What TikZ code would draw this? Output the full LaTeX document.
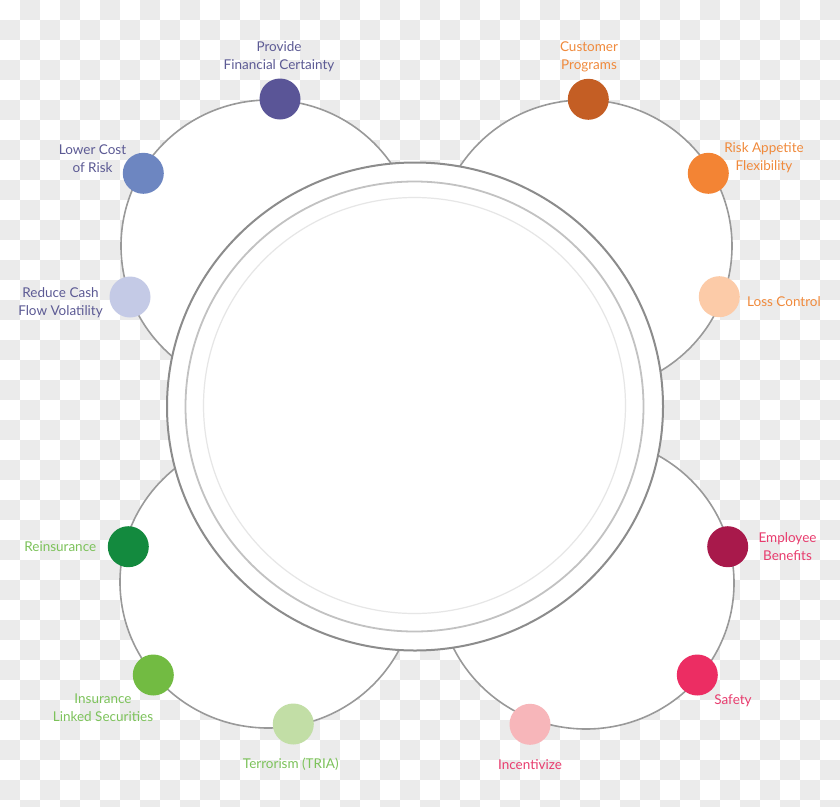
\documentclass[tikz,border=0pt]{standalone}
\usepackage{fontspec}
\setmainfont{Lato}
\definecolor{chk}{HTML}{EBEBEB}
\definecolor{petalgray}{HTML}{999999}
\definecolor{ringA}{HTML}{8C8C8C}
\definecolor{ringB}{HTML}{C2C2C2}
\definecolor{ringC}{HTML}{E6E6E6}
\definecolor{tPurple}{HTML}{5C5A94}
\definecolor{tOrange}{HTML}{F08A3C}
\definecolor{tGreen}{HTML}{7CC25A}
\definecolor{tPink}{HTML}{E83C6E}
\definecolor{cProvide}{HTML}{5A5597}
\definecolor{cLower}{HTML}{6D86C1}
\definecolor{cReduce}{HTML}{C4CAE6}
\definecolor{cCustomer}{HTML}{C45E24}
\definecolor{cRisk}{HTML}{F38434}
\definecolor{cLoss}{HTML}{FCCBA8}
\definecolor{cReins}{HTML}{138A3E}
\definecolor{cILS}{HTML}{72BB42}
\definecolor{cTerror}{HTML}{C2DEA6}
\definecolor{cEmpl}{HTML}{A8194B}
\definecolor{cSafety}{HTML}{EC2D63}
\definecolor{cIncent}{HTML}{F7B6BA}
\begin{document}
\begin{tikzpicture}[x=1pt,y=-1pt,
  petal/.style={draw=petalgray, line width=1.6pt, fill=white},
  dotnode/.style={circle, minimum size=41pt, inner sep=0pt, draw=none},
  lbl/.style={align=center, inner sep=0pt, font=\fontsize{13.5}{18}\selectfont}]
\useasboundingbox (0,0) rectangle (840,806);
\fill[white] (0,0) rectangle (840,806);
% transparency checkerboard
\foreach \i in {0,...,41}{
  \foreach \j in {0,...,40}{
    \pgfmathtruncatemacro\chkodd{mod(\i+\j,2)}
    \ifnum\chkodd=1
      \fill[chk] (\i*20,\j*20) rectangle (\i*20+20,\j*20+20);
    \fi
  }
}
% petal circles
\draw[petal] (269,246) circle[x radius=148, y radius=146];
\draw[petal] (584,246) circle[x radius=148, y radius=146];
\draw[petal] (268,582) circle[x radius=148, y radius=146];
\draw[petal] (586,583) circle[x radius=148, y radius=146];
% main circle and rings
\draw[draw=ringA, line width=2pt, fill=white] (415,406.5) circle[x radius=248, y radius=244];
\draw[draw=ringB, line width=1.8pt] (414.5,406.5) circle[x radius=229, y radius=225];
\draw[draw=ringC, line width=1.2pt] (414.5,405.5) circle[x radius=211, y radius=208];
% dots
\node[dotnode, fill=cProvide]  (dProvide)  at (280,99) {};
\node[dotnode, fill=cLower]    (dLower)    at (143.3,173.3) {};
\node[dotnode, fill=cReduce]   (dReduce)   at (130,297) {};
\node[dotnode, fill=cCustomer] (dCustomer) at (588.3,99.3) {};
\node[dotnode, fill=cRisk]     (dRisk)     at (708.3,173.3) {};
\node[dotnode, fill=cLoss]     (dLoss)     at (719.3,296.7) {};
\node[dotnode, fill=cReins]    (dReins)    at (128.3,546.7) {};
\node[dotnode, fill=cILS]      (dILS)      at (153.3,675) {};
\node[dotnode, fill=cTerror]   (dTerror)   at (293.3,724) {};
\node[dotnode, fill=cEmpl]     (dEmpl)     at (727.7,546.7) {};
\node[dotnode, fill=cSafety]   (dSafety)   at (697.3,675) {};
\node[dotnode, fill=cIncent]   (dIncent)   at (530,724.3) {};
% labels
\node[lbl, text=tPurple] (lProvide)  at (279,56.5) {Provide\\Financial Certainty};
\node[lbl, text=tPurple] (lLower)    at (92.5,158.5) {Lower Cost\\of Risk};
\node[lbl, text=tPurple] (lReduce)   at (60.5,302.5) {Reduce Cash\\Flow Volatility};
\node[lbl, text=tOrange] (lCustomer) at (589,56.5) {Customer\\Programs};
\node[lbl, text=tOrange] (lRisk)     at (764,157.5) {Risk Appetite\\Flexibility};
\node[lbl, text=tOrange] (lLoss)     at (784,302) {Loss Control};
\node[lbl, text=tGreen]  (lReins)    at (60.3,546.5) {Reinsurance};
\node[lbl, text=tGreen]  (lILS)      at (103,707.5) {Insurance\\Linked Securities};
\node[lbl, text=tGreen]  (lTerror)   at (290.8,764.5) {Terrorism (TRIA)};
\node[lbl, text=tPink]   (lEmpl)     at (787.5,547) {Employee\\Benefits};
\node[lbl, text=tPink]   (lSafety)   at (733,700.5) {Safety};
\node[lbl, text=tPink]   (lIncent)   at (530,764.5) {Incentivize};
\end{tikzpicture}
\end{document}
